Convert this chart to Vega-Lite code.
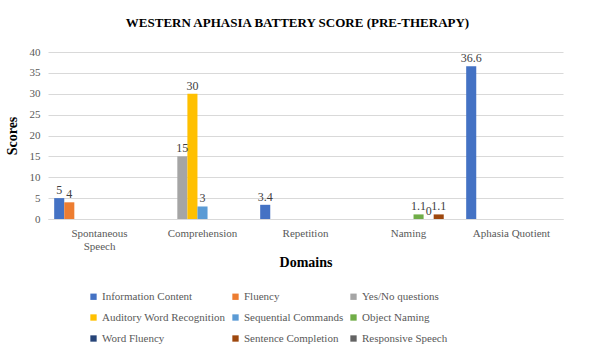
{
  "$schema": "https://vega.github.io/schema/vega-lite/v6.json",
  "width": 515,
  "height": 167,
  "autosize": {"type": "none"},
  "padding": {"left": 48, "top": 52, "right": 30, "bottom": 135},
  "background": "white",
  "title": {
    "text": "WESTERN APHASIA BATTERY SCORE (PRE-THERAPY)",
    "font": "Times New Roman",
    "fontSize": 13,
    "fontWeight": "bold",
    "color": "#000000",
    "anchor": "middle",
    "dx": -8,
    "offset": 16
  },
  "config": {
    "font": "Times New Roman",
    "view": {"stroke": null}
  },
  "data": {
    "values": [
      {"domain": "Spontaneous Speech", "series": "Information Content", "score": 5},
      {"domain": "Spontaneous Speech", "series": "Fluency", "score": 4},
      {"domain": "Comprehension", "series": "Yes/No questions", "score": 15},
      {"domain": "Comprehension", "series": "Auditory Word Recognition", "score": 30},
      {"domain": "Comprehension", "series": "Sequential Commands", "score": 3},
      {"domain": "Repetition", "series": "Information Content", "score": 3.4},
      {"domain": "Naming", "series": "Object Naming", "score": 1.1},
      {"domain": "Naming", "series": "Word Fluency", "score": 0},
      {"domain": "Naming", "series": "Sentence Completion", "score": 1.1},
      {"domain": "Aphasia Quotient", "series": "Information Content", "score": 36.6}
    ]
  },
  "encoding": {
    "x": {
      "field": "domain",
      "type": "nominal",
      "sort": ["Spontaneous Speech", "Comprehension", "Repetition", "Naming", "Aphasia Quotient"],
      "scale": {"paddingInner": 0.12, "paddingOuter": 0.06},
      "axis": {
        "title": "Domains",
        "labelFont": "Times New Roman",
        "labelFontSize": 11,
        "labelColor": "#595959",
        "titleFont": "Times New Roman",
        "titleFontWeight": "bold",
        "titleFontSize": 14,
        "titleColor": "#000000",
        "ticks": false,
        "labelAngle": 0,
        "labelPadding": 8,
        "titlePadding": 4,
        "domainColor": "#D9D9D9",
        "labelExpr": "datum.label == 'Spontaneous Speech' ? ['Spontaneous', 'Speech'] : datum.label"
      }
    },
    "xOffset": {
      "field": "series",
      "type": "nominal",
      "scale": {
        "domain": ["Information Content", "Fluency", "Yes/No questions", "Auditory Word Recognition", "Sequential Commands", "Object Naming", "Word Fluency", "Sentence Completion", "Responsive Speech"],
        "paddingInner": 0,
        "paddingOuter": 0
      }
    },
    "y": {
      "field": "score",
      "type": "quantitative",
      "scale": {"domain": [0, 40]},
      "axis": {
        "title": "Scores",
        "labelFont": "Times New Roman",
        "labelFontSize": 11,
        "labelColor": "#595959",
        "titleFont": "Times New Roman",
        "titleFontWeight": "bold",
        "titleFontSize": 14,
        "titleColor": "#000000",
        "ticks": false,
        "values": [0, 5, 10, 15, 20, 25, 30, 35, 40],
        "domain": false,
        "gridColor": "#D9D9D9",
        "labelPadding": 8,
        "titlePadding": 10
      }
    }
  },
  "layer": [
    {
      "mark": {"type": "bar"},
      "encoding": {
        "color": {
          "field": "series",
          "type": "nominal",
          "scale": {
            "domain": ["Information Content", "Fluency", "Yes/No questions", "Auditory Word Recognition", "Sequential Commands", "Object Naming", "Word Fluency", "Sentence Completion", "Responsive Speech"],
            "range": ["#4472C4", "#ED7D31", "#A5A5A5", "#FFC000", "#5B9BD5", "#70AD47", "#264478", "#9E480E", "#636363"]
          },
          "legend": {
            "title": null,
            "orient": "none",
            "legendX": 40,
            "legendY": 239,
            "columns": 3,
            "direction": "horizontal",
            "labelFont": "Times New Roman",
            "labelFontSize": 11,
            "labelColor": "#595959",
            "symbolType": "square",
            "symbolSize": 40,
            "symbolStrokeWidth": 0,
            "labelOffset": 3,
            "columnPadding": 4,
            "rowPadding": 9
          }
        }
      }
    },
    {
      "mark": {"type": "text", "dy": -8, "fontSize": 12, "color": "#404040", "font": "Times New Roman"},
      "encoding": {
        "text": {"field": "score", "type": "quantitative"}
      }
    }
  ]
}
